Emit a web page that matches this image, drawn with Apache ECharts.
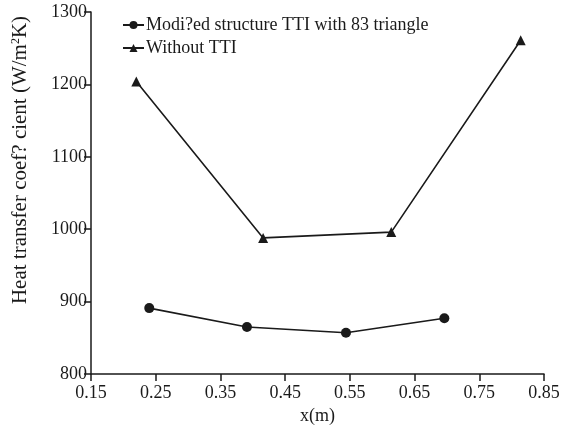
<!DOCTYPE html>
<html>
<head>
<meta charset="utf-8">
<script src="https://cdn.jsdelivr.net/npm/echarts@6/dist/echarts.min.js"></script>
<style>
  html, body { margin: 0; padding: 0; background: #fff; }
  #chart { width: 563px; height: 432px; }
</style>
</head>
<body>
<div id="chart"></div>
<script>
// data
var seriesNames = ['Modi?ed structure TTI with 83 triangle', 'Without TTI'];
var modX = [0.240, 0.391, 0.544, 0.696];
var modY = [891, 865, 857, 877];
var withoutX = [0.220, 0.416, 0.614, 0.814];
var withoutY = [1204, 988, 996, 1261];
var xTicks = [0.15, 0.25, 0.35, 0.45, 0.55, 0.65, 0.75, 0.85];

function pairs(xs, ys) {
  return xs.map(function (x, i) { return [x, ys[i]]; });
}

var ink = '#1a1a1a';
var font = 'Liberation Serif';

var myChart = echarts.init(document.getElementById('chart'));
var option = {
  animation: false,
  textStyle: { fontFamily: font, color: ink },
  grid: { left: 91, right: 19, top: 12, bottom: 58 },
  legend: {
    left: 122,
    top: 16,
    padding: 0,
    orient: 'vertical',
    itemWidth: 21,
    itemHeight: 10,
    itemGap: 5,
    textStyle: { fontFamily: font, fontSize: 18, color: ink, padding: [0, 0, 0, -3] },
    data: seriesNames
  },
  xAxis: {
    type: 'value',
    min: 0.15,
    max: 0.85,
    name: 'x(m)',
    nameLocation: 'middle',
    nameGap: 21,
    nameTextStyle: { fontFamily: font, fontSize: 18, color: ink },
    axisLine: { lineStyle: { color: ink, width: 1.5 } },
    axisTick: { customValues: xTicks, length: 7, lineStyle: { color: ink, width: 1.5 } },
    axisLabel: {
      customValues: xTicks,
      fontFamily: font, fontSize: 18, color: ink, margin: 10,
      formatter: function (v) { return v.toFixed(2); }
    },
    splitLine: { show: false }
  },
  yAxis: {
    type: 'value',
    min: 800,
    max: 1300,
    interval: 100,
    name: 'Heat transfer coef? cient (W/m{sup|2}K)',
    nameLocation: 'middle',
    nameGap: 60,
    nameTextStyle: {
      fontFamily: font, fontSize: 21, color: ink,
      padding: [0, 0, 0, 66],
      rich: { sup: { fontFamily: font, fontSize: 12, verticalAlign: 'top', padding: [0, 0, 9, 0] } }
    },
    axisLine: { show: true, lineStyle: { color: ink, width: 1.5 } },
    axisTick: { show: true, length: 7, lineStyle: { color: ink, width: 1.5 } },
    axisLabel: {
      fontFamily: font, fontSize: 18, color: ink, margin: 4,
      formatter: function (v) { return String(v); }
    },
    splitLine: { show: false }
  },
  series: [
    {
      name: seriesNames[0],
      type: 'line',
      data: pairs(modX, modY),
      symbol: 'circle',
      symbolSize: 10,
      lineStyle: { color: ink, width: 1.6 },
      itemStyle: { color: ink }
    },
    {
      name: seriesNames[1],
      type: 'line',
      data: pairs(withoutX, withoutY),
      symbol: 'triangle',
      symbolSize: 10,
      lineStyle: { color: ink, width: 1.6 },
      itemStyle: { color: ink }
    }
  ]
};
myChart.setOption(option);
</script>
</body>
</html>
